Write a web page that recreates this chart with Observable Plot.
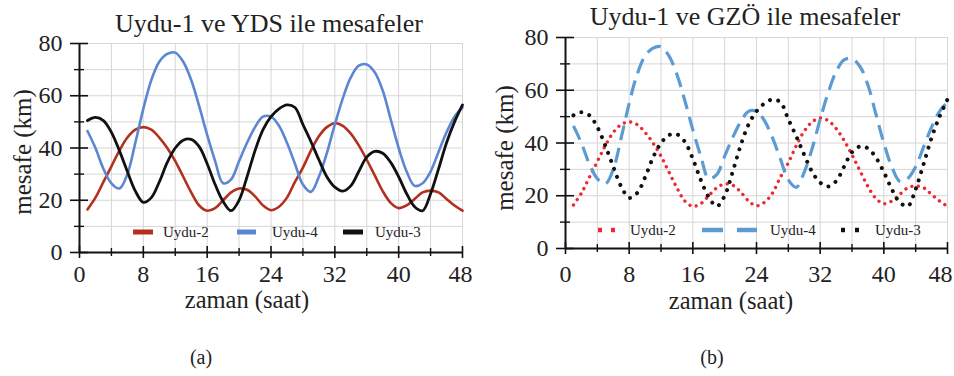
<!DOCTYPE html>
<html>
<head>
<meta charset="utf-8">
<script src="https://cdn.jsdelivr.net/npm/d3@7"></script>
<script src="https://cdn.jsdelivr.net/npm/@observablehq/plot@0.6"></script>
<style>
  html, body { margin: 0; padding: 0; background: #fff; }
  #page { position: relative; width: 954px; height: 376px; overflow: hidden; font-family: "Liberation Serif", "Times New Roman", serif; }
  .panel { position: absolute; top: 0; width: 477px; height: 320px; }
  .panel svg { overflow: visible; }
  #overlay { position: absolute; left: 0; top: 0; pointer-events: none; }
</style>
</head>
<body>
<div id="page">
  <div class="panel" id="pa" style="left:0px"></div>
  <div class="panel" id="pb" style="left:477px"></div>
  <svg id="overlay" width="954" height="376"></svg>
</div>
<script>
// ---- data ----
const hours = [1,2,3,4,5,6,7,8,9,10,11,12,13,14,15,16,17,18,19,20,21,22,23,24,25,26,27,28,29,30,31,32,33,34,35,36,37,38,39,40,41,42,43,44,45,46,47,48];
const uydu2 = [16.5,21,27,33,39,44,47,48, 47,44,40,35,29,23,18,16, 17,20,23,24.5,24,21.5,18,16.2, 17.5,21,27,32.5,39,44.5,48,49.5, 48.5,45.5,41,35.5,29.5,23.5,19,17, 18,20.5,23,23.7,23,20.5,18,16];
const uydu4 = [46.5,40,32,26.5, 24.5,30,42,55, 66,73,76,76.5, 73,66,56,45, 35,26.5,28,35, 42,48,52,52, 48.5,42,34,26, 23.2,29,38,49, 59,67,71.5,72, 69,62,51,40, 31,25.5,26.5,31, 38.5,46,52,55.5];
const uydu3 = [50.5,51.7,50.5,46, 39,31,23.5,19.2, 21,27,34.5,40, 43,43.3,40.5,34, 26,19.5,16,20, 29,39,47,52, 55,56.5,55.5,49, 42.5,35.5,29,25, 23.5,25.5,31,36.5, 38.7,38,34.5,29, 22.5,17.5,16,22.5, 32,42,50,56.5];
const seriesNames = ["Uydu-2", "Uydu-4", "Uydu-3"];
const titles = ["Uydu-1 ve YDS ile mesafeler", "Uydu-1 ve GZÖ ile mesafeler"];
const captions = ["(a)", "(b)"];
const xLabel = "zaman (saat)";
const yLabel = "mesafe (km)";
const xMajor = [0,8,16,24,32,40,48];
const xMinor = [4,12,20,28,36,44];
const yMajor = [0,20,40,60,80];
const yMinor = [10,30,50,70];
const xGrid = [4,8,12,16,20,24,28,32,36,40,44,48];
const yGrid = [10,20,30,40,50,60,70,80];

const rows = s => hours.map((t, i) => ({t, v: s[i]}));
const data = [rows(uydu2), rows(uydu4), rows(uydu3)];

const FONT = '"Liberation Serif", "Times New Roman", serif';

function panel(cfg) {
  const lines = data.map((d, k) => Plot.line(d, {
    x: "t", y: "v", curve: "catmull-rom",
    stroke: cfg.colors[k], strokeWidth: cfg.widths[k],
    strokeDasharray: cfg.dash[k], strokeLinecap: cfg.caps[k]
  }));
  return Plot.plot({
    width: 477, height: 320,
    marginLeft: cfg.ml, marginRight: cfg.mr, marginTop: cfg.mt, marginBottom: cfg.mb,
    x: {domain: [0, 48]},
    y: {domain: [0, 80]},
    style: {fontFamily: FONT, fontSize: "24px", color: "#222", background: "transparent", overflow: "visible"},
    marks: [
      Plot.ruleX(xGrid, {stroke: "#d6d6d6", strokeWidth: 1}),
      Plot.ruleY(yGrid, {stroke: "#d6d6d6", strokeWidth: 1}),
      ...lines,
      Plot.ruleX([0], {stroke: "#111", strokeWidth: 2}),
      Plot.ruleY([0], {stroke: "#111", strokeWidth: 2}),
      Plot.ruleX(xMajor, {y1: 0, y2: 0, insetTop: -6, insetBottom: -6, stroke: "#111", strokeWidth: 1.6}),
      Plot.ruleX(xMinor, {y1: 0, y2: 0, insetTop: -4, insetBottom: -4, stroke: "#111", strokeWidth: 1.4}),
      Plot.ruleY(yMajor, {x1: 0, x2: 0, insetLeft: -9, insetRight: -9, stroke: "#111", strokeWidth: 1.6}),
      Plot.ruleY(yMinor, {x1: 0, x2: 0, insetLeft: -5, insetRight: -5, stroke: "#111", strokeWidth: 1.4}),
      Plot.axisX({ticks: xMajor.slice(0, -1), tickSize: 0, tickPadding: cfg.xpad, label: null, fill: "#222"}),
      Plot.axisX({ticks: xMajor.slice(-1), tickSize: 0, tickPadding: cfg.xpad, label: null, fill: "#222", dx: cfg.lastDx}),
      Plot.axisY({ticks: yMajor, tickSize: 0, tickPadding: 17, label: null, fill: "#222"})
    ]
  });
}

document.getElementById("pa").appendChild(panel({
  ml: 79, mr: 15, mt: 43, mb: 68, xpad: 12, lastDx: -2,
  colors: ["#b3301f", "#5b87d2", "#111111"],
  widths: [2.6, 2.6, 2.8],
  dash: [null, null, null],
  caps: ["round", "round", "round"]
}));
document.getElementById("pb").appendChild(panel({
  ml: 88, mr: 7, mt: 37, mb: 72, xpad: 16, lastDx: -7,
  colors: ["#ec2a35", "#5d9bd3", "#111111"],
  widths: [3.4, 3.2, 4],
  dash: ["0.01 6.5", "15 8", "0.01 8.5"],
  caps: ["round", "butt", "round"]
}));

// ---- overlay text: titles, axis labels, legends, captions ----
const ov = d3.select("#overlay");
const txt = (x, y, s, size, anchor = "middle", rot = 0) =>
  ov.append("text").attr("x", x).attr("y", y).text(s)
    .attr("font-family", FONT).attr("font-size", size).attr("fill", "#222")
    .attr("text-anchor", anchor)
    .attr("transform", rot ? `rotate(${rot},${x},${y})` : null);

txt(269, 32, titles[0], 26);
txt(745, 25, titles[1], 26);
txt(247, 308, xLabel, 24.5);
txt(731, 309, xLabel, 24.5);
txt(31, 152, yLabel, 25, "middle", -90);
txt(513, 148, yLabel, 25, "middle", -90);
txt(201, 364, captions[0], 20);
txt(712, 364, captions[1], 20);

// legend (a)
const legA = [
  {x0: 133, x1: 153, tx: 163, c: "#b3301f"},
  {x0: 237, x1: 256, tx: 272, c: "#5b87d2"},
  {x0: 343, x1: 363, tx: 375, c: "#111111"}
];
legA.forEach((l, k) => {
  ov.append("line").attr("x1", l.x0).attr("x2", l.x1).attr("y1", 232).attr("y2", 232)
    .attr("stroke", l.c).attr("stroke-width", 5);
  txt(l.tx, 237, seriesNames[k], 15, "start");
});
// legend (b)
const legB = [
  {segs: [[598, 602], [611, 615]], tx: 630, c: "#ec2a35"},
  {segs: [[702, 723], [737, 757]], tx: 770, c: "#5d9bd3"},
  {segs: [[841, 845], [855, 859]], tx: 875, c: "#111111"}
];
legB.forEach((l, k) => {
  l.segs.forEach(([a, b]) => ov.append("line").attr("x1", a).attr("x2", b).attr("y1", 230).attr("y2", 230)
    .attr("stroke", l.c).attr("stroke-width", 4.5));
  txt(l.tx, 235, seriesNames[k], 15, "start");
});
</script>
</body>
</html>
